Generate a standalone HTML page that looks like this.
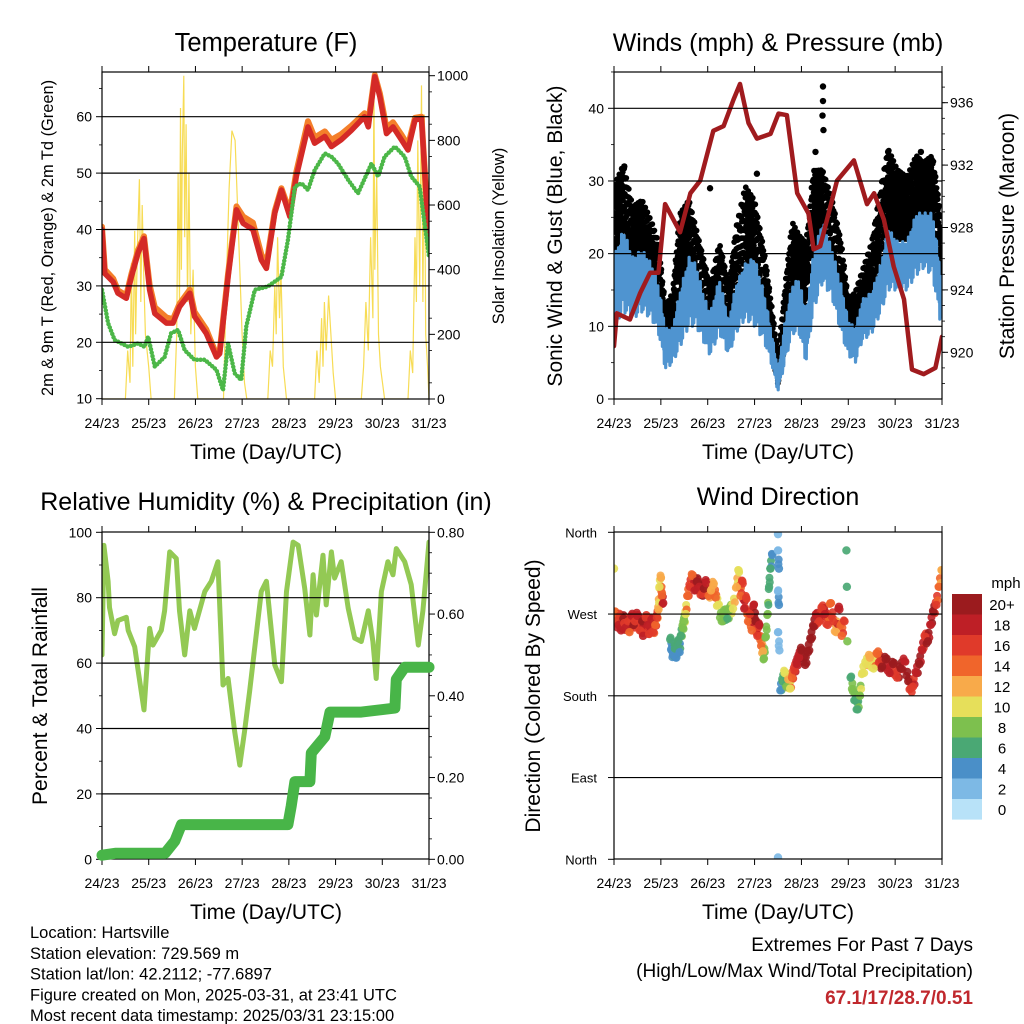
<!DOCTYPE html>
<html><head><meta charset="utf-8"><style>
html,body{margin:0;padding:0;background:#fff;}
svg{display:block;font-family:"Liberation Sans",Arial,sans-serif;}
</style></head><body>
<svg id="c" width="1024" height="1024" viewBox="0 0 1024 1024"></svg>
<script>
// ---------- DATA ----------
const dayLabels=["24/23","25/23","26/23","27/23","28/23","29/23","30/23","31/23"];
const tempT=[0,0.06,0.24,0.34,0.52,0.63,0.77,0.90,1.02,1.13,1.38,1.52,1.66,1.88,1.98,2.23,2.45,2.52,2.70,2.88,3.02,3.23,3.41,3.52,3.70,3.84,4.02,4.16,4.41,4.55,4.77,4.91,5.12,5.34,5.62,5.70,5.84,5.95,6.09,6.23,6.41,6.55,6.70,6.84,7.0];
const temp2m=[40,32.2,30.7,28.7,27.8,31.6,35.8,38.4,29.3,25.1,23.4,23.4,26.3,28.7,24.6,21.6,17.4,18,31.6,43.5,41.1,40,34.6,33.1,42.9,47,42.3,49.4,58.2,55.3,56.5,54.7,55.9,57.6,60,58.2,67.1,63.5,57,58.2,55.9,54.1,59.4,59.7,37.5];
const temp9m=[40.5,32.9,31.3,29.2,28.3,32.1,36.3,38.8,30.2,26.2,24.4,24.1,26.8,29.3,25.4,22.3,17.8,18.4,32.2,44.1,42.3,41.2,35.6,33.8,43.3,47.3,43.1,50.2,59.2,56.3,57.4,55.9,56.9,58.4,60.6,59.0,67.4,64.1,58.0,59.0,56.8,54.9,59.8,60.0,38.0];
const dewT=[0,0.13,0.27,0.56,0.77,0.91,0.99,1.13,1.34,1.48,1.63,1.77,1.98,2.20,2.45,2.59,2.70,2.84,2.98,3.09,3.27,3.55,3.84,3.98,4.13,4.27,4.41,4.55,4.77,4.91,5.05,5.27,5.48,5.77,5.91,6.05,6.27,6.48,6.62,6.80,7.0];
const dewV=[29.3,23.4,20.4,19.2,19.8,19.2,21,15.7,17.4,21.6,22.2,18.6,16.9,16.9,15.1,11.5,19.8,14.5,13.3,22.8,29.3,29.9,31.6,38.1,47.6,48.2,47,50.5,53.5,52.9,51.7,48.8,46.4,51.7,49.4,52.9,54.7,52.9,49.4,47.6,35.2];
const solarT=[0,0.5,0.55,0.6,0.63,0.66,0.7,0.72,0.76,0.8,0.83,0.86,0.9,0.93,1.0,1.05,1.55,1.6,1.63,1.66,1.68,1.7,1.72,1.75,1.77,1.8,1.83,1.86,1.9,1.95,2.0,2.05,2.6,2.65,2.72,2.78,2.85,2.9,2.95,3.0,3.05,3.1,3.55,3.6,3.65,3.7,3.73,3.76,3.8,3.83,3.88,3.95,4.55,4.6,4.65,4.7,4.73,4.76,4.8,4.85,4.9,4.95,5.0,5.55,5.6,5.65,5.7,5.75,5.8,5.82,5.84,5.88,5.92,5.96,6.05,6.55,6.6,6.65,6.7,6.73,6.76,6.8,6.84,6.87,6.9,6.93,6.97,7.0];
const solarV=[0,0,150,50,420,100,520,200,480,680,300,600,350,200,100,0,0,200,700,300,900,400,750,1000,500,850,300,700,200,400,100,0,0,300,650,830,800,600,400,200,50,0,0,150,100,350,200,500,250,400,100,0,0,150,50,250,100,300,150,320,200,80,0,0,100,300,150,500,250,1000,400,700,200,100,0,0,150,80,500,300,800,350,970,300,880,200,100,0];

const windT=[0,0.2,0.4,0.6,0.8,0.95,1.1,1.25,1.4,1.6,1.75,1.9,2.05,2.25,2.45,2.6,2.8,3.0,3.2,3.35,3.5,3.65,3.8,3.95,4.1,4.25,4.45,4.65,4.85,5.0,5.15,5.3,5.5,5.7,5.85,6.05,6.25,6.45,6.6,6.8,6.95,7.0];
const windLo=[10,12,11,12,11,9,4,5,7,10,10,8,6,9,6,9,11,10,8,5,1,5,9,9,5,12,16,14,9,6,5,8,9,12,15,15,15,17,18,17,11,11];
const windHi=[20,24,20,21,19,16,10,10,15,20,19,15,12,17,11,16,19,20,15,10,4,11,16,17,12,20,25,21,16,11,10,14,15,19,24,22,22,26,26,26,19,17];
const gustLo=[15,17,16,15,13,12,7,7,14,15,14,11,9,12,9,12,15,14,11,7,2,7,12,13,11,20,22,18,13,9,8,11,13,18,23,22,22,24,23,24,17,15];
const gustHi=[30,33,27,28,25,22,13,15,26,28,24,20,16,22,16,24,30,28,21,14,6,16,25,23,22,32,32,28,22,14,15,18,22,30,35,32,31,34,33,34,27,23];
const gustOutT=[4.46,4.46,4.45,4.47,4.3,3.05,5.85,6.55,2.05,0.22];
const gustOutV=[43,41,39,37,34,31,34,34,29,32];
const presT=[0,0.06,0.34,0.56,0.77,0.95,1.09,1.41,1.63,1.84,2.12,2.34,2.55,2.69,2.87,3.05,3.34,3.51,3.69,3.91,4.15,4.26,4.40,4.76,5.12,5.40,5.55,5.76,5.97,6.19,6.36,6.61,6.86,7.0];
const presV=[920.4,922.5,922.1,923.8,925.1,925.1,929.5,927.7,930.2,931.0,934.2,934.5,936.2,937.2,934.7,933.7,934.0,935.3,935.2,930.2,928.9,926.6,926.8,931.0,932.3,929.5,930.2,928.5,925.5,923.4,918.9,918.6,919.0,921.0];

const rhT=[0,0.04,0.13,0.16,0.27,0.34,0.52,0.56,0.70,0.77,0.90,1.02,1.09,1.27,1.34,1.45,1.59,1.66,1.77,1.88,1.98,2.20,2.34,2.48,2.59,2.70,2.84,2.95,3.05,3.16,3.41,3.52,3.70,3.84,3.95,4.09,4.20,4.34,4.45,4.52,4.59,4.73,4.80,4.91,4.98,5.12,5.27,5.41,5.55,5.70,5.80,5.87,5.98,6.12,6.23,6.30,6.48,6.62,6.77,6.87,7.0];
const rhV=[62.5,96,85,77,69,73,74,70,65,58,45.7,70.6,65.5,70,76,94,92,76,62.5,76,70.6,81.9,85,91,53.3,55.3,39,28.8,39,51.3,81.9,85,59.4,54.3,81.9,97,96,82.9,68.6,87,74.7,93,77.8,94,86,91,76.8,67.6,66.6,76,66.6,55.3,81.9,91,87,95,91,84,65.5,76,97];
const prT=[0,0.3,1.35,1.56,1.7,3.0,3.98,4.05,4.13,4.45,4.48,4.77,4.88,5.55,6.27,6.30,6.48,7.0];
const prV=[0.01,0.015,0.015,0.045,0.085,0.085,0.085,0.13,0.19,0.19,0.26,0.30,0.36,0.36,0.37,0.44,0.47,0.47];

const dirT=[0,0,0.02,0.05,0.1,0.12,0.15,0.2,0.22,0.25,0.3,0.33,0.38,0.42,0.45,0.5,0.55,0.6,0.62,0.68,0.72,0.75,0.8,0.84,0.88,0.92,0.95,0.97,1.0,1.02,1.05,
1.2,1.23,1.26,1.3,1.33,1.37,1.4,1.43,1.47,1.5,1.53,
1.57,1.62,1.67,1.72,1.77,1.82,1.87,1.92,1.97,2.02,2.07,2.12,2.17,2.22,
2.3,2.36,2.42,2.48,2.54,
2.62,2.66,2.7,2.74,2.78,2.82,2.86,2.9,2.94,2.98,3.02,3.06,3.1,3.14,3.18,
3.2,3.24,3.28,3.31,3.34,3.38,
3.5,3.5,3.52,3.5,3.52,3.5,3.53,3.5,
3.55,3.6,3.64,3.68,3.72,3.76,3.8,3.85,3.9,3.95,4.0,
4.08,4.14,4.2,4.26,4.32,4.38,4.44,
4.5,4.56,4.62,4.68,4.74,4.8,4.86,4.92,4.96,4.97,4.98,
5.05,5.1,5.15,5.2,5.25,
5.3,5.38,5.46,5.54,5.62,5.68,
5.72,5.8,5.88,5.96,6.04,6.12,6.2,6.28,6.33,
6.38,6.45,6.52,6.58,6.64,6.7,6.76,6.82,6.88,6.94,7.0];
const dirV=[320,262,270,262,258,268,252,265,260,255,262,250,268,258,262,268,252,262,246,266,258,248,264,250,258,266,275,300,310,290,282,
242,230,225,232,222,240,228,246,255,262,270,
290,300,312,296,306,300,292,298,304,290,296,302,288,280,
262,272,265,275,276,
300,318,290,306,276,288,262,270,252,280,262,246,258,235,229,
221,245,270,300,320,335,
358,340,320,295,280,250,230,2,
186,196,205,190,198,188,200,208,215,222,230,
214,228,242,256,268,262,276,
270,258,282,262,250,278,246,262,340,300,240,
200,185,175,165,180,
205,215,222,210,226,218,
212,220,205,215,200,210,218,196,188,
190,205,215,230,245,240,258,272,280,300,318];
const dirS=[10,12,14,16,18,16,18,20,16,18,16,14,18,20,16,18,16,20,18,16,18,16,18,16,14,16,12,10,12,14,18,
6,4,4,6,4,6,4,6,8,8,10,
14,16,14,18,20,18,16,20,18,14,12,12,14,10,
8,8,6,8,10,
12,10,14,16,18,16,14,16,14,18,20,16,18,14,12,
8,8,8,6,6,4,
2,2,4,2,4,2,2,2,
4,6,10,8,12,10,14,16,18,18,20,
20,20,20,20,18,16,16,
18,16,14,16,12,18,14,16,6,6,8,
6,8,6,6,8,
10,10,12,10,14,16,
20,20,18,20,16,20,18,20,16,
16,18,20,18,16,20,18,20,16,14,12];
const speedLabels=["0","2","4","6","8","10","12","14","16","18","20+"];
const speedColors=["#b8e2f8","#7db9e5","#4a8fc8","#4aa874","#7dc04e","#e6df5a","#f8aa4a","#f0652b","#e03a2a","#be1f26","#9b1b1e"];

// ---------- DRAW ----------
const NS="http://www.w3.org/2000/svg";
const svg=document.getElementById("c");
function el(tag,attrs,parent){const e=document.createElementNS(NS,tag);for(const k in attrs)e.setAttribute(k,attrs[k]);(parent||svg).appendChild(e);return e;}
function txt(s,x,y,size,anchor,parent,extra){const t=el("text",Object.assign({x:x,y:y,"font-size":size,"text-anchor":anchor||"middle",fill:"#000"},extra||{}),parent);t.textContent=s;return t;}

const P1={x0:102,x1:429,y0:72,y1:399};
const P2={x0:614,x1:942,y0:72,y1:399};
const P3={x0:102,x1:429,y0:532,y1:859};
const P4={x0:614,x1:942,y0:532,y1:859};
function xs(P,d){return P.x0+d/7*(P.x1-P.x0);}
function lin(v0,p0,v1,p1){return v=>p0+(v-v0)*(p1-p0)/(v1-v0);}
const yT=lin(10,398.7,60,116.7), yS=lin(0,399,1000,75.7);
const yW=lin(0,399,40,108.3), yP=lin(920,352.3,936,102.7);
const yRH=lin(0,859.3,100,532.3), yPR=lin(0,859.3,0.8,532.3);
const yD=lin(0,859.3,360,532.3);

function pathFrom(P,T,V,yf){return T.map((t,i)=>(i?"L":"M")+xs(P,t).toFixed(1)+","+yf(V[i]).toFixed(1)).join(" ");}
function clip(id,P){const cp=el("clipPath",{id:id});el("rect",{x:P.x0,y:P.y0,width:P.x1-P.x0,height:P.y1-P.y0},cp);return "url(#"+id+")";}
function interp(T,V,t){for(let i=1;i<T.length;i++){if(t<=T[i]){const f=(t-T[i-1])/(T[i]-T[i-1]||1);return V[i-1]+f*(V[i]-V[i-1]);}}return V[V.length-1];}

function frame(P,name,leftTicks,leftFmt,yl,minorL,rightTicks,rightFmt,yr,minorR,grid){
  const g=el("g",{});
  
  
  grid.forEach(v=>el("line",{x1:P.x0,x2:P.x1,y1:yl(v),y2:yl(v),stroke:"#000","stroke-width":1.2},g));
  for(let d=0;d<=7;d++){const x=xs(P,d);
    el("line",{x1:x,x2:x,y1:P.y1,y2:P.y1+6,stroke:"#000","stroke-width":1},g);
    el("line",{x1:x,x2:x,y1:P.y0,y2:P.y0-6,stroke:"#000","stroke-width":1},g);
    const t=txt(dayLabels[d],x,P.y1+29,14,"middle",g);
    
    }
  leftTicks.forEach(v=>{const y=yl(v);el("line",{x1:P.x0-6,x2:P.x0,y1:y,y2:y,stroke:"#000"},g);
    txt(leftFmt(v),P.x0-10,y+5,14,"end",g);});
  minorL.forEach(v=>{const y=yl(v);el("line",{x1:P.x0-3,x2:P.x0,y1:y,y2:y,stroke:"#000","stroke-width":0.8},g);});
  if(rightTicks){rightTicks.forEach(v=>{const y=yr(v);el("line",{x1:P.x1,x2:P.x1+6,y1:y,y2:y,stroke:"#000"},g);
    txt(rightFmt(v),P.x1+8,y+5,14,"start",g);});
   minorR.forEach(v=>{const y=yr(v);el("line",{x1:P.x1,x2:P.x1+3,y1:y,y2:y,stroke:"#000","stroke-width":0.8},g);});}
  el("rect",{x:P.x0,y:P.y0,width:P.x1-P.x0,height:P.y1-P.y0,fill:"none",stroke:"#000","stroke-width":1.2},g);
  return g;
}
function rng(a,b,s){const r=[];for(let v=a;v<=b+1e-9;v+=s)r.push(+v.toFixed(4));return r;}

// ===== Panel 1 Temperature =====
const c1=clip("cp1",P1);
const g1=el("g",{"clip-path":c1});
const sol=el("path",{d:pathFrom(P1,solarT,solarV,yS),fill:"none",stroke:"#f7dc55","stroke-width":1.2},g1);


const t9=el("path",{d:pathFrom(P1,tempT,temp9m,yT),fill:"none",stroke:"#f47f2a","stroke-width":6,"stroke-linejoin":"round","stroke-linecap":"round"},g1);


const t2=el("path",{d:pathFrom(P1,tempT,temp2m,yT),fill:"none",stroke:"#d42a27","stroke-width":5.5,"stroke-linejoin":"round","stroke-linecap":"round"},g1);


const dw=el("path",{d:pathFrom(P1,dewT,dewV,yT),fill:"none",stroke:"#4cb748","stroke-width":4.5,"stroke-dasharray":"0 3.5","stroke-linecap":"round"},g1);


frame(P1,"temperature",[10,20,30,40,50,60],v=>v,yT,rng(15,65,10),[0,200,400,600,800,1000],v=>v,yS,rng(50,950,100),[20,30,40,50,60]);

// ===== Panel 2 Winds =====
const c2=clip("cp2",P2);
const g2=el("g",{"clip-path":c2});
const gg=el("g",{},g2);


const fracs=[0.1,0.55,0.3,0.85,0.05,0.7,0.4,0.95,0.2,0.6,0.45,0.8,0.15,0.35,0.75,0.5,0.9,0.25,0.65,0.0];
let k=0;
for(let t=0;t<=7;t+=0.0075){const lo=interp(windT,gustLo,t),hi=interp(windT,gustHi,t);
  for(let j=0;j<3;j++){const f=fracs[(k++)%fracs.length];
   el("circle",{cx:xs(P2,t).toFixed(1),cy:yW(lo+(hi-lo)*f).toFixed(1),r:2.9,fill:"#000"},gg);}}
gustOutT.forEach((t,i)=>{const c=el("circle",{cx:xs(P2,t),cy:yW(gustOutV[i]),r:3.2,fill:"#000"},g2);
 
 });
let zz="";let s=0;
for(let t=0;t<=7;t+=0.006){const lo=interp(windT,windLo,t),hi=interp(windT,windHi,t);
  const f=fracs[(s++)%fracs.length];const v=lo+(hi-lo)*f;
  zz+=(zz?"L":"M")+xs(P2,t).toFixed(1)+","+yW(v).toFixed(1);}
const wb=el("path",{d:zz,fill:"none",stroke:"#4f94d0","stroke-width":3.2,"stroke-linejoin":"round"},g2);


const pr=el("path",{d:pathFrom(P2,presT,presV,yP),fill:"none",stroke:"#a01b1e","stroke-width":4.5,"stroke-linejoin":"round","stroke-linecap":"round"},g2);


frame(P2,"winds",[0,10,20,30,40],v=>v,yW,rng(5,45,10),[920,924,928,932,936],v=>v,yP,rng(918,937,1),[10,20,30,40]);

// ===== Panel 3 RH =====
const c3=clip("cp3",P3);
const g3=el("g",{"clip-path":c3});
const rh=el("path",{d:pathFrom(P3,rhT,rhV,yRH),fill:"none",stroke:"#93c954","stroke-width":5,"stroke-linejoin":"round","stroke-linecap":"round"},g3);


const pp=el("path",{d:pathFrom(P3,prT,prV,yPR),fill:"none",stroke:"#48b548","stroke-width":11,"stroke-linejoin":"round","stroke-linecap":"round"});


frame(P3,"humidity",[0,20,40,60,80,100],v=>v,yRH,rng(10,90,20),[0,0.2,0.4,0.6,0.8],v=>v.toFixed(2),yPR,rng(0.1,0.7,0.2).concat(rng(0.05,0.75,0.1)),[20,40,60,80]);
svg.appendChild(pp);

// ===== Panel 4 Direction =====
const c4=clip("cp4",P4);
const g4=el("g",{"clip-path":c4});
function spColor(sp){return speedColors[Math.min(10,Math.max(0,Math.round(sp/2)))];}
for(let i=1;i<dirT.length;i++){const dt=dirT[i]-dirT[i-1],dv=Math.abs(dirV[i]-dirV[i-1]);
  if(dt>0&&dt<0.09&&dv<40){for(let m=1;m<4;m++){const f=m/4;
    el("circle",{cx:xs(P4,dirT[i-1]+f*dt),cy:yD(dirV[i-1]+f*(dirV[i]-dirV[i-1])+((m%2)?5:-5)),r:4,fill:spColor(f<0.5?dirS[i-1]:dirS[i]),"fill-opacity":0.9},g4);}}}
dirT.forEach((t,i)=>{
 const c=el("circle",{cx:xs(P4,t),cy:yD(dirV[i]),r:4.2,fill:spColor(dirS[i]),"fill-opacity":0.92},g4);
 
 });
const dirNames=["North","East","South","West","North"];
frame(P4,"direction",[],v=>v,yD,[],null,null,null,null,[90,180,270]);
[0,90,180,270,360].forEach((v,i)=>{el("line",{x1:P4.x0-6,x2:P4.x0,y1:yD(v),y2:yD(v),stroke:"#000"});
 const t=txt(dirNames[i],P4.x0-17,yD(v)+5,13,"end");
 
 });

const cb=el("g",{});


speedLabels.forEach((l,i)=>{const j=10-i;const y=594+i*20.5;
 el("rect",{x:952,y:y,width:30,height:20.6,fill:speedColors[j]},cb);
 txt(speedLabels[j],1002,y+16,15,"middle",cb);});
txt("mph",1006,588,15,"middle",cb);

// ---------- TITLES ----------
function T(s,x,y,size,name,rot,extra){const t=txt(s,x,y,size,"middle",null,extra);
 if(rot)t.setAttribute("transform","rotate(-90 "+x+" "+y+")");
 
 return t;}
T("Temperature (F)",266,51,25.5,"temperature-title");
T("Winds (mph) & Pressure (mb)",778,51,25,"winds-title");
T("Relative Humidity (%) & Precipitation (in)",266,510,25,"humidity-title");
T("Wind Direction",778,505,25,"direction-title");
T("Time (Day/UTC)",266,459,21,"x-axis-title-1");
T("Time (Day/UTC)",778,459,21,"x-axis-title-2");
T("Time (Day/UTC)",266,919,21,"x-axis-title-3");
T("Time (Day/UTC)",778,919,21,"x-axis-title-4");
T("2m & 9m T (Red, Orange) & 2m Td (Green)",53,238,16.4,"temperature-y-axis-title",true);
T("Solar Insolation (Yellow)",504,236,16.5,"solar-y-axis-title",true);
T("Sonic Wind & Gust (Blue, Black)",562,236,21,"wind-y-axis-title",true);
T("Station Pressure (Maroon)",1014,236,21,"pressure-y-axis-title",true);
T("Percent & Total Rainfall",47,696,21,"humidity-y-axis-title",true);
T("Direction (Colored By Speed)",540,696,21,"direction-y-axis-title",true);

const foot=["Location: Hartsville","Station elevation: 729.569 m","Station lat/lon: 42.2112; -77.6897","Figure created on Mon, 2025-03-31, at 23:41 UTC","Most recent data timestamp: 2025/03/31 23:15:00"];
foot.forEach((s,i)=>{const t=txt(s,30,938+i*20.8,16.5,"start");
 
 });
let e1=txt("Extremes For Past 7 Days",973,951,19,"end");


let e2=txt("(High/Low/Max Wind/Total Precipitation)",973,977,19,"end");


let e3=txt("67.1/17/28.7/0.51",973,1004,19,"end",null,{fill:"#c0282d","font-weight":"bold"});


</script>
</body></html>
